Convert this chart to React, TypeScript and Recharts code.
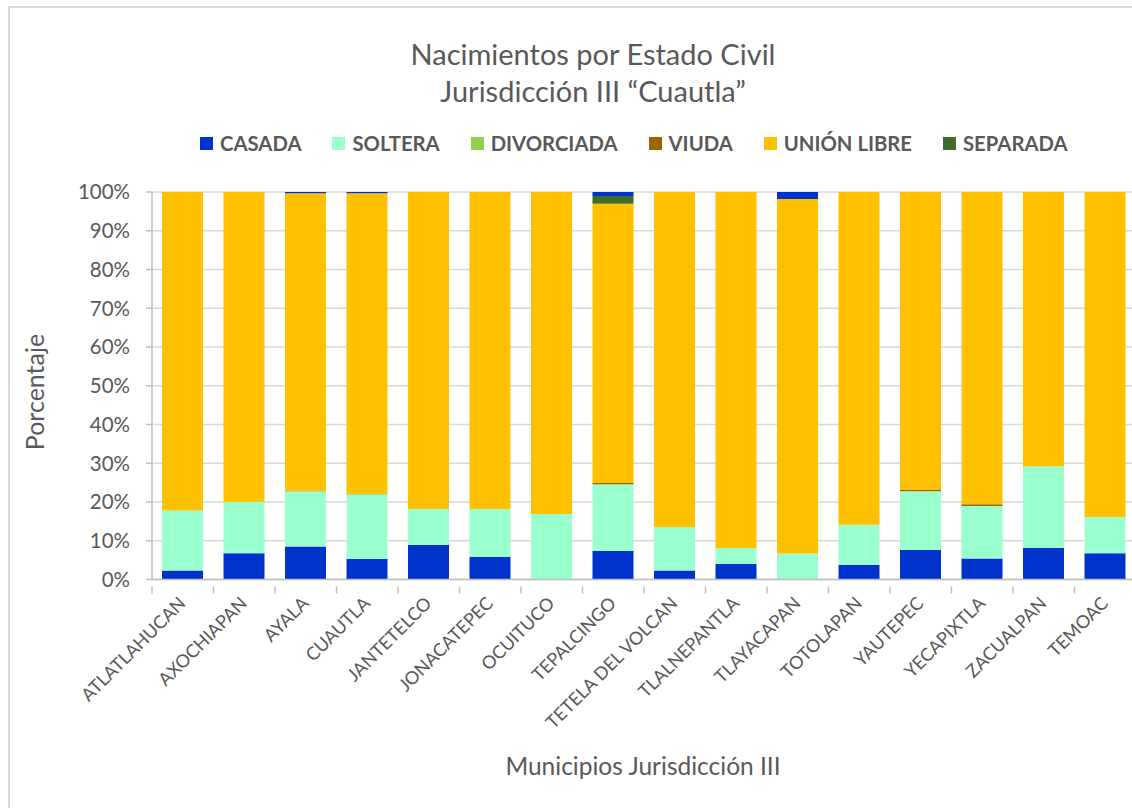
import React from "react";
import { BarChart, Bar, XAxis, YAxis, CartesianGrid } from "recharts";

const categories = [
  "ATLATLAHUCAN", "AXOCHIAPAN", "AYALA", "CUAUTLA", "JANTETELCO", "JONACATEPEC",
  "OCUITUCO", "TEPALCINGO", "TETELA DEL VOLCAN", "TLALNEPANTLA", "TLAYACAPAN",
  "TOTOLAPAN", "YAUTEPEC", "YECAPIXTLA", "ZACUALPAN", "TEMOAC",
];
const casada = [2.3, 6.8, 8.5, 5.3, 8.9, 5.9, 0, 7.4, 2.3, 4.0, 0, 3.8, 7.6, 5.4, 8.1, 6.8];
const soltera = [15.5, 13.2, 14.3, 16.7, 9.3, 12.3, 16.9, 17.2, 11.2, 4.1, 6.7, 10.3, 15.2, 13.6, 21.1, 9.3];
const divorciada = [0, 0, 0, 0, 0, 0, 0, 0, 0, 0, 0, 0, 0, 0, 0, 0];
const viuda = [0, 0, 0.1, 0.1, 0, 0, 0, 0.3, 0, 0, 0, 0, 0.3, 0.4, 0, 0];
const unionLibre = [82.2, 80.0, 76.8, 77.6, 81.8, 81.8, 83.1, 72.1, 86.5, 91.9, 91.5, 85.9, 76.9, 80.6, 70.8, 83.9];
const separada = [0, 0, 0, 0, 0, 0, 0, 2.0, 0, 0, 0, 0, 0, 0, 0, 0];
const noEspecificado = [0, 0, 0.3, 0.3, 0, 0, 0, 1.0, 0, 0, 1.8, 0, 0, 0, 0, 0];
const yTicks = [0, 0.1, 0.2, 0.3, 0.4, 0.5, 0.6, 0.7, 0.8, 0.9, 1];

const series = [
  { key: "casada", name: "CASADA", color: "#0033CC", values: casada, legend: true },
  { key: "soltera", name: "SOLTERA", color: "#99FFCC", values: soltera, legend: true },
  { key: "divorciada", name: "DIVORCIADA", color: "#92D050", values: divorciada, legend: true },
  { key: "viuda", name: "VIUDA", color: "#996600", values: viuda, legend: true },
  { key: "union", name: "UNIÓN LIBRE", color: "#FFC000", values: unionLibre, legend: true },
  { key: "separada", name: "SEPARADA", color: "#426B2A", values: separada, legend: true },
  { key: "noesp", name: "NO ESPECIFICADO", color: "#0033CC", values: noEspecificado, legend: false },
];

const data = categories.map((c, i) => {
  const row: any = { name: c };
  series.forEach((s) => (row[s.key] = s.values[i]));
  return row;
});

const TEXT = "#595959";
const FONT = "Lato, 'Open Sans', sans-serif";
const CHART_W = 1145;
const PLOT_LEFT = 152;
const PLOT_RIGHT_MARGIN = 9;
const BAND = (CHART_W - PLOT_LEFT - PLOT_RIGHT_MARGIN) / categories.length;

const XTick = (props: any) => {
  const { x, y, payload, index } = props;
  return (
    <g>
      <line x1={x - BAND / 2} x2={x - BAND / 2} y1={y - 1} y2={y + 6} stroke="#BFBFBF" strokeWidth={1.5} />
      {index === categories.length - 1 && (
        <line x1={x + BAND / 2} x2={x + BAND / 2} y1={y - 1} y2={y + 6} stroke="#BFBFBF" strokeWidth={1.5} />
      )}
      <text
        x={x + 4}
        y={y + 17}
        textAnchor="end"
        fill={TEXT}
        fontSize={18}
        fontFamily={FONT}
        transform={`rotate(-45, ${x + 4}, ${y + 17})`}
      >
        {payload.value}
      </text>
    </g>
  );
};

export default function App() {
  return (
    <div style={{ position: "absolute", left: 0, top: 0, width: 1132, height: 808, overflow: "hidden", background: "#fff" }}>
      <div
        style={{
          position: "absolute",
          left: 8,
          top: 6,
          width: 1300,
          height: 1000,
          border: "2px solid #D9D9D9",
          boxSizing: "border-box",
        }}
      />
      <div
        style={{
          position: "absolute",
          left: 0,
          width: 1186,
          top: 35,
          textAlign: "center",
          fontFamily: FONT,
          fontSize: 29,
          lineHeight: "37px",
          color: TEXT,
        }}
      >
        <div>Nacimientos por Estado Civil</div>
        <div>Jurisdicción III “Cuautla”</div>
      </div>
      <div
        style={{
          position: "absolute",
          left: 200,
          top: 131,
          display: "flex",
          alignItems: "center",
          fontFamily: FONT,
          fontWeight: 700,
          fontSize: 20.3,
          color: TEXT,
          whiteSpace: "nowrap",
        }}
      >
        {series
          .filter((s) => s.legend)
          .map((s) => (
            <div key={s.key} style={{ display: "flex", alignItems: "center", marginRight: 31 }}>
              <span style={{ width: 13, height: 13, background: s.color, display: "inline-block", marginRight: 7 }} />
              <span>{s.name}</span>
            </div>
          ))}
      </div>
      <div
        style={{
          position: "absolute",
          left: 34,
          top: 392,
          transform: "translate(-50%, -50%) rotate(-90deg)",
          fontFamily: FONT,
          fontSize: 25,
          color: TEXT,
          whiteSpace: "nowrap",
        }}
      >
        Porcentaje
      </div>
      <div
        style={{
          position: "absolute",
          left: 643,
          top: 765,
          transform: "translate(-50%, -50%)",
          fontFamily: FONT,
          fontSize: 24.5,
          color: TEXT,
          whiteSpace: "nowrap",
        }}
      >
        Municipios Jurisdicción III
      </div>
      <div style={{ position: "absolute", left: 0, top: 0 }}>
        <BarChart
          width={CHART_W}
          height={808}
          data={data}
          stackOffset="expand"
          barSize={41}
          margin={{ top: 192, right: PLOT_RIGHT_MARGIN, left: 0, bottom: 0 }}
        >
          <CartesianGrid vertical={false} stroke="#D9D9D9" strokeWidth={1.5} />
          <XAxis
            dataKey="name"
            interval={0}
            height={228.5}
            tickLine={false}
            axisLine={{ stroke: "#BFBFBF", strokeWidth: 1.5 }}
            tick={<XTick />}
          />
          <YAxis
            width={PLOT_LEFT}
            domain={[0, 1]}
            ticks={yTicks}
            tickFormatter={(v: number) => `${Math.round(v * 100)}%`}
            axisLine={{ stroke: "#BFBFBF", strokeWidth: 1.5 }}
            tickLine={{ stroke: "#BFBFBF", strokeWidth: 1.5 }}
            tickSize={6}
            tickMargin={16}
            tick={{ fill: TEXT, fontSize: 20.5, fontFamily: FONT }}
          />
          {series.map((s) => (
            <Bar
              key={s.key}
              dataKey={s.key}
              name={s.name}
              stackId="a"
              fill={s.color}
              isAnimationActive={false}
            />
          ))}
        </BarChart>
      </div>
    </div>
  );
}
